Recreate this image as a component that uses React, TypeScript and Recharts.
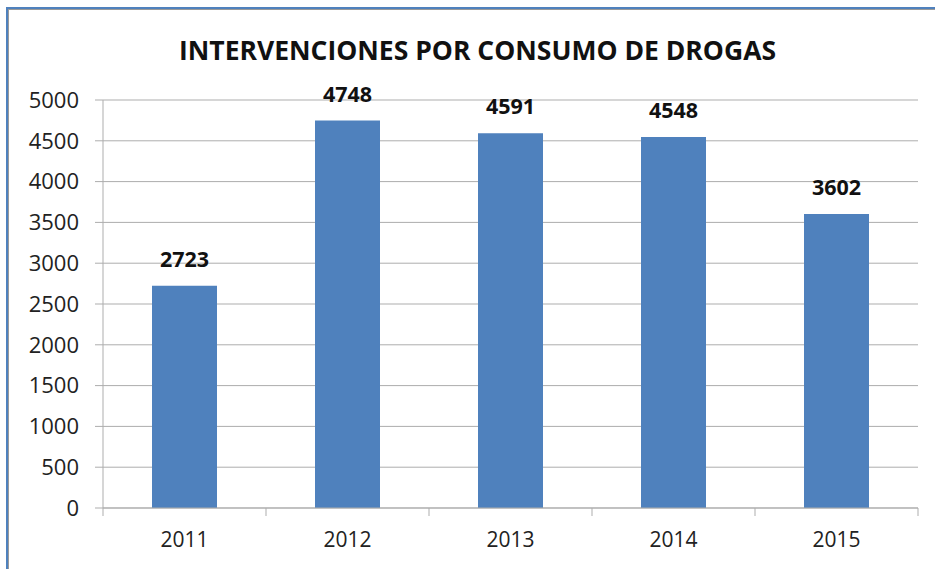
import { Bar, BarChart, CartesianGrid, LabelList, XAxis, YAxis } from "recharts";

const years = ["2011", "2012", "2013", "2014", "2015"];
const interventions = [2723, 4748, 4591, 4548, 3602];
const yTicks = [0, 500, 1000, 1500, 2000, 2500, 3000, 3500, 4000, 4500, 5000];

const font = "'Open Sans', 'Noto Sans', sans-serif";
const grid = "#ADADAD";
const TICK_GAP = 24; // tickSize + tickMargin on the category axis

// year label plus the short tick marks that sit on the category boundaries
function YearTick(props: any) {
  const { x, y, payload, index, visibleTicksCount } = props;
  const half = payload.offset || 81.5;
  const axisY = y - TICK_GAP;
  const last = index === visibleTicksCount - 1;
  return (
    <g>
      <line x1={x - half} x2={x - half} y1={axisY} y2={axisY + 8} stroke={grid} />
      {last && <line x1={x + half} x2={x + half} y1={axisY} y2={axisY + 8} stroke={grid} />}
      <text x={x} y={y} dy="0.71em" textAnchor="middle" fill="#222" fontSize={21} fontFamily={font}>
        {payload.value}
      </text>
    </g>
  );
}

export default function App() {
  const data = years.map((year, i) => ({ year, value: interventions[i] }));

  return (
    <div
      style={{
        position: "absolute",
        left: 0,
        top: 0,
        width: 935,
        height: 569,
        overflow: "hidden",
        background: "#fff",
        fontFamily: font,
      }}
    >
      {/* frame, only top and left edges are visible */}
      <div
        style={{
          position: "absolute",
          left: 6,
          top: 7,
          width: 1000,
          height: 700,
          borderTop: "2px solid #4F81BD",
          borderLeft: "2px solid #4F81BD",
        }}
      >
        <div style={{ width: "100%", height: "100%", borderTop: "1px solid #9A9A9A", borderLeft: "1px solid #9A9A9A" }} />
      </div>
      <div
        style={{
          position: "absolute",
          left: 0,
          width: 955,
          top: 32,
          textAlign: "center",
          fontSize: 26.5,
          fontWeight: 700,
          color: "#111",
          lineHeight: "36px",
        }}
      >
        INTERVENCIONES POR CONSUMO DE DROGAS
      </div>
      <div style={{ position: "absolute", left: 0, top: 0 }}>
        <BarChart
          width={935}
          height={569}
          data={data}
          barCategoryGap="20%"
          margin={{ top: 100, right: 17, bottom: 21, left: 0 }}
        >
          <CartesianGrid stroke={grid} vertical={false} />
          <XAxis
            dataKey="year"
            height={40}
            tickLine={false}
            stroke={grid}
            tickSize={6}
            tickMargin={18}
            interval={0}
            tick={<YearTick />}
          />
          <YAxis
            domain={[0, 5000]}
            ticks={yTicks}
            width={103}
            stroke={grid}
            tickSize={8}
            tickMargin={16}
            tick={{ fill: "#222", fontSize: 22, fontFamily: font }}
          />
          <Bar dataKey="value" fill="#4F81BD" barSize={65} isAnimationActive={false}>
            <LabelList
              dataKey="value"
              position="top"
              offset={19}
              fill="#111"
              fontSize={21.5}
              fontWeight={700}
              fontFamily={font}
            />
          </Bar>
        </BarChart>
      </div>
    </div>
  );
}
